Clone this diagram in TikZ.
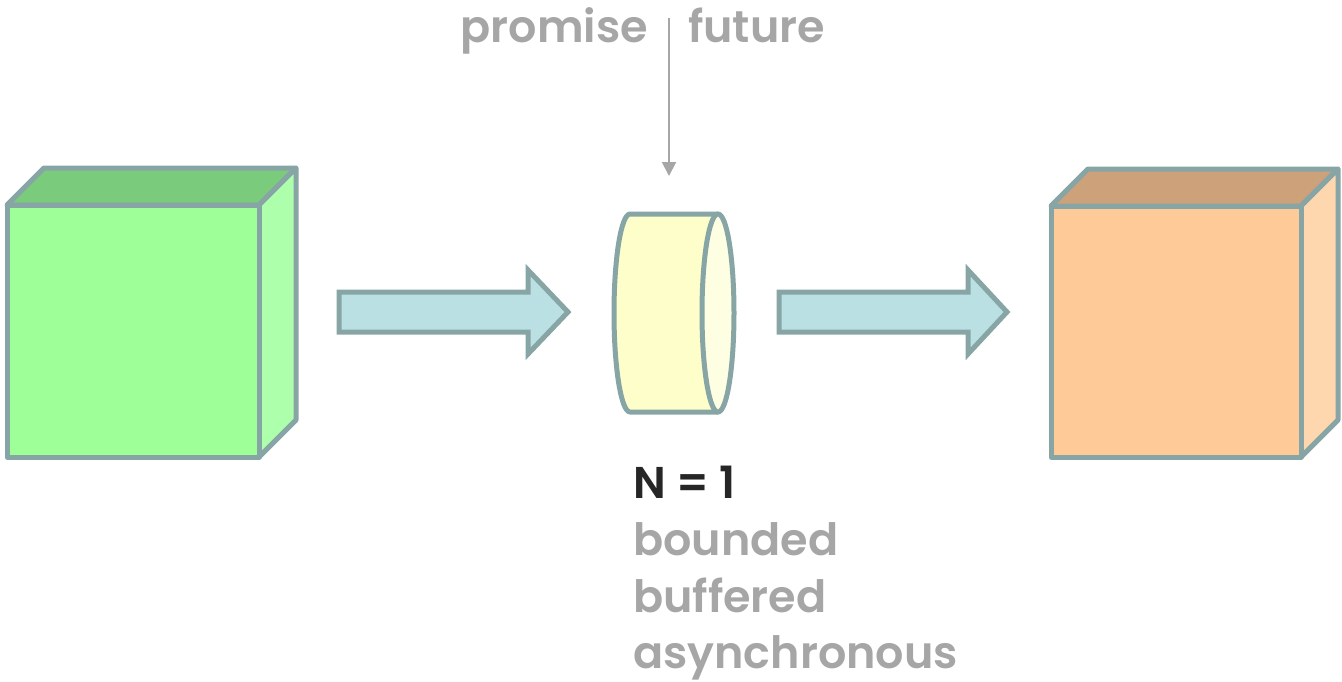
\documentclass[tikz,border=0pt]{standalone}
\usepackage{fontspec}
\setmainfont{Poppins}[BoldFont={* SemiBold}]
\usetikzlibrary{arrows.meta}
\definecolor{edge}{HTML}{88A5A5}
\definecolor{gfront}{HTML}{9EFE98}
\definecolor{gtop}{HTML}{7ACB7B}
\definecolor{gside}{HTML}{AEFFAC}
\definecolor{ofront}{HTML}{FECB98}
\definecolor{otop}{HTML}{CDA27A}
\definecolor{oside}{HTML}{FFD7AF}
\definecolor{arrowfill}{HTML}{BAE0E3}
\definecolor{cylbody}{HTML}{FEFECB}
\definecolor{cylend}{HTML}{FEFEE3}
\definecolor{labgray}{HTML}{A6A6A6}
\definecolor{labdark}{HTML}{262626}
\tikzset{
  facet/.style={draw=edge, line width=5pt, line join=round},
  blockarrow/.style={draw=edge, fill=arrowfill, line width=5pt, line join=miter},
  lab/.style={font=\fontsize{44.5}{50}\selectfont\bfseries, text=labgray, inner sep=0pt},
}
\begin{document}
\begin{tikzpicture}[x=1pt,y=-1pt]
\useasboundingbox (0,0) rectangle (1342,681);
% left cube
\filldraw[facet, fill=gtop] (7,205) -- (44,168) -- (296,168) -- (259,205) -- cycle;
\filldraw[facet, fill=gside] (259,205) -- (296,168) -- (296,420) -- (259,457) -- cycle;
\filldraw[facet, fill=gfront] (7,205) rectangle (259,457);
% right cube
\filldraw[facet, fill=otop] (1051,206) -- (1088,169) -- (1338,169) -- (1301,206) -- cycle;
\filldraw[facet, fill=oside] (1301,206) -- (1338,169) -- (1338,420) -- (1301,457) -- cycle;
\filldraw[facet, fill=ofront] (1051,206) rectangle (1301,457);
% block arrows
\filldraw[blockarrow] (339,292) -- (528,292) -- (528,270) -- (568,312) -- (528,354) -- (528,332) -- (339,332) -- cycle;
\filldraw[blockarrow] (779,292) -- (968,292) -- (968,270) -- (1007,312) -- (968,354) -- (968,332) -- (779,332) -- cycle;
% cylinder
\filldraw[facet, fill=cylbody] (630,214) -- (718,214) -- (718,412) -- (630,412) arc[start angle=90, end angle=270, x radius=16, y radius=99] -- cycle;
\filldraw[facet, fill=cylend] (718,313) ellipse[x radius=16, y radius=99];
\coordinate (cyl) at (669,176);
% top labels
\node[lab, anchor=base east] (promise) at (648,42) {promise};
\node[lab, anchor=base west] (future) at (688,42) {future};
\coordinate (split) at (669,18);
\draw[labgray, line width=2pt, -{Triangle[length=14pt,width=14pt]}] (split) -- (cyl);
% bottom labels
\node[lab, anchor=base west, text=labdark] (n) at (633,498) {N = 1};
\node[lab, anchor=base west] (bounded) at (633,555) {bounded};
\node[lab, anchor=base west] (buffered) at (633,612) {buffered};
\node[lab, anchor=base west] (async) at (633,668) {asynchronous};
\end{tikzpicture}
\end{document}
